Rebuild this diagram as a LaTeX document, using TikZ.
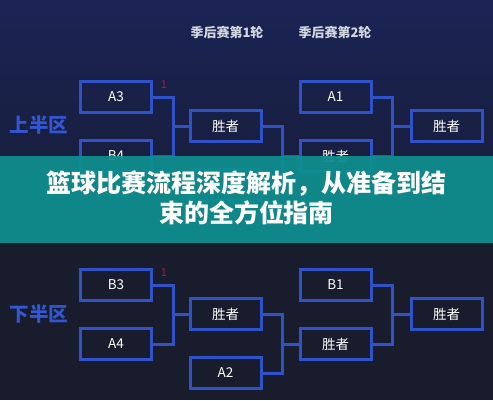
\documentclass[tikz,border=0pt]{standalone}
\usepackage{fontspec}
\setmainfont{Noto Sans CJK SC}
\definecolor{bgtop}{HTML}{1B2454}
\definecolor{bgmid}{HTML}{171D3A}
\definecolor{bgbot}{HTML}{181C2C}
\definecolor{boxblue}{HTML}{2F52C8}
\definecolor{zonetxt}{HTML}{3357D2}
\definecolor{headtxt}{HTML}{D3D6E0}
\definecolor{redone}{HTML}{A81C3A}
\definecolor{banner}{HTML}{0F8E8E}
\tikzset{
  teambox/.style={draw=boxblue, line width=3pt, minimum width=71pt, minimum height=31pt, inner sep=0pt, text=white, font=\fontsize{13.5}{13.5}\selectfont},
  link/.style={draw=boxblue, line width=3pt},
  head/.style={text=headtxt, font=\bfseries\fontsize{13}{13}\selectfont},
  zone/.style={text=zonetxt, font=\bfseries\fontsize{19.5}{19.5}\selectfont},
  seed/.style={text=redone, font=\fontsize{11}{11}\selectfont}
}
\begin{document}
\begin{tikzpicture}[x=1pt,y=-1pt]
\useasboundingbox (0,0) rectangle (493,400);
\shade[top color=bgtop, bottom color=bgmid] (0,0) rectangle (493,200);
\fill[bgbot] (0,200) rectangle (493,400);

% headers
\node[head] (h1) at (227,32) {季后赛第1轮};
\node[head] (h2) at (335,32) {季后赛第2轮};

% upper zone
\node[zone] (zu) at (39,125) {上半区};
\node[teambox] (A3) at (116,97) {A3};
\node[teambox] (B4) at (116,156) {B4};
\node[teambox] (W1) at (225.5,126) {胜者};
\node[teambox] (W2) at (225.5,185) {};
\node[teambox] (A1) at (335.5,97) {A1};
\node[teambox] (W3) at (335.5,156) {胜者};
\node[teambox] (W4) at (446.5,126) {胜者};
\node[seed] (s1) at (164,85) {1};
\draw[link] (A3.east) -- ++(20,0) |- (W1.west);
\draw[link] (B4.east) -- ++(20,0) |- (W1.west);
\draw[link] (W1.east) -- ++(20,0) |- (W3.west);
\draw[link] (W2.east) -- ++(20,0) |- (W3.west);
\draw[link] (A1.east) -- ++(20,0) |- (W4.west);
\draw[link] (W3.east) -- ++(20,0) |- (W4.west);

% lower zone
\node[zone] (zl) at (39,314) {下半区};
\node[teambox] (B3) at (116,285) {B3};
\node[teambox] (A4) at (116,344) {A4};
\node[teambox] (V1) at (225.5,314) {胜者};
\node[teambox] (A2) at (225.5,373) {A2};
\node[teambox] (B1) at (335.5,285) {B1};
\node[teambox] (V3) at (335.5,344) {胜者};
\node[teambox] (V4) at (446.5,314) {胜者};
\node[seed] (s2) at (164,273) {1};
\draw[link] (B3.east) -- ++(20,0) |- (V1.west);
\draw[link] (A4.east) -- ++(20,0) |- (V1.west);
\draw[link] (V1.east) -- ++(20,0) |- (V3.west);
\draw[link] (A2.east) -- ++(20,0) |- (V3.west);
\draw[link] (B1.east) -- ++(20,0) |- (V4.west);
\draw[link] (V3.east) -- ++(20,0) |- (V4.west);

% banner
\fill[banner, fill opacity=0.94] (0,156) rectangle (493,243);
\node[text=white, align=center, font=\bfseries\fontsize{25}{30}\selectfont] (title) at (246.5,198) {篮球比赛流程深度解析，从准备到结\\束的全方位指南};
\end{tikzpicture}
\end{document}
